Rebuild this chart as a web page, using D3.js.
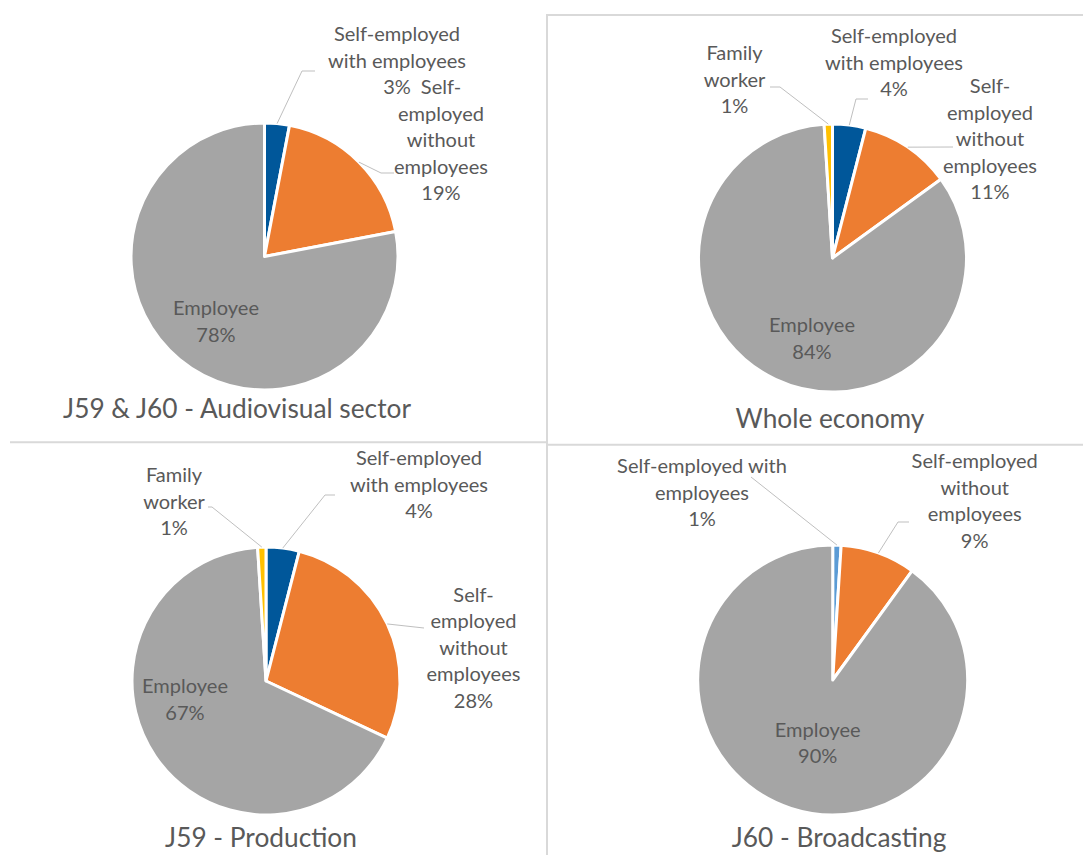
<!DOCTYPE html>
<html>
<head>
<meta charset="utf-8">
<script src="https://cdn.jsdelivr.net/npm/d3@7"></script>
<style>
  html, body { margin: 0; padding: 0; background: #ffffff; }
  svg { display: block; }
</style>
</head>
<body>
<svg id="chart" width="1083" height="855"></svg>
<script>
// ---- data -------------------------------------------------------------
const categories = [
  "Self-employed with employees",
  "Self-employed without employees",
  "Employee",
  "Family worker"
];
const panelTitles = [
  "J59 & J60 - Audiovisual sector",
  "Whole economy",
  "J59 - Production",
  "J60 - Broadcasting"
];
// shares in %, in category order (0 = category not shown)
const audiovisualShares = [3, 19, 78, 0];
const wholeEconomyShares = [4, 11, 84, 1];
const productionShares   = [4, 28, 67, 1];
const broadcastingShares = [1, 9, 90, 0];

// wrapped label text per panel (the percentage line is added from the value)
const wrapA = [["Self-employed", "with employees"], ["Self-", "employed", "without", "employees"], ["Employee"], []];
const wrapB = [["Self-employed", "with employees"], ["Self-", "employed", "without", "employees"], ["Employee"], ["Family", "worker"]];
const wrapC = [["Self-employed with", "employees"], ["Self-employed", "without", "employees"], ["Employee"], []];

// ---- styling ------------------------------------------------------------
const sliceColors = ["#00579a", "#ed7d31", "#a5a5a5", "#ffc000"];
const sliceColorsBroadcasting = ["#5b9bd5", "#ed7d31", "#a5a5a5", "#ffc000"];
const textColor = "#595959";
const leaderColor = "#bfbfbf";
const frameColor = "#d9d9d9";
const fontFamily = "Lato, 'Open Sans', 'Liberation Sans', sans-serif";
const lineStep = 26.5;

// ---- layout (pie centre, radius, label anchors relative to the centre) ----
const panels = [
  { title: panelTitles[0], values: audiovisualShares, wrap: wrapA, colors: sliceColors,
    cx: 264.5, cy: 256.5, r: 133.5, titleAt: [-27.5, 161.5],
    labels: [
      { at: [132.5, -215.5], leader: [[37.5, -185.5], [50.5, -185.5]] },
      { at: [176.5, -162.5], leader: [[116.5, -83.5], [129.5, -83.5]] },
      { at: [-48.5, 58.5] },
      null
    ] },
  { title: panelTitles[1], values: wholeEconomyShares, wrap: wrapB, colors: sliceColors,
    cx: 832.5, cy: 258, r: 134, titleAt: [-2.5, 170],
    labels: [
      { at: [61.5, -215], leader: [[23.5, -159], [35.5, -159]] },
      { at: [157.5, -165], leader: [[120.5, -111]] },
      { at: [-20.5, 74] },
      { at: [-98, -198], leader: [[-52.5, -171], [-62.5, -171]] }
    ] },
  { title: panelTitles[2], values: productionShares, wrap: wrapB, colors: sliceColors,
    cx: 266, cy: 681, r: 134, titleAt: [-5, 166],
    labels: [
      { at: [153, -216], leader: [[59, -186], [69, -186]] },
      { at: [207.5, -79.3], leader: [[158, -53]] },
      { at: [-81, 12] },
      { at: [-92, -199], leader: [[-54, -174], [-58, -174]] }
    ] },
  { title: panelTitles[3], values: broadcastingShares, wrap: wrapC, colors: sliceColorsBroadcasting,
    cx: 832.7, cy: 680, r: 135, titleAt: [6.3, 167],
    labels: [
      { at: [-130.7, -206.7], leader: [[-81.7, -203]] },
      { at: [142, -211.7], leader: [[65.3, -158], [76.3, -158]] },
      { at: [-15, 56.7] },
      null
    ] }
];

const svg = d3.select("#chart");

// font sizes chosen so that the text runs to the intended widths
function fitFontSize(text, targetWidth) {
  const probe = svg.append("text").attr("font-family", fontFamily).attr("font-size", 100).text(text);
  const w = probe.node().getComputedTextLength();
  probe.remove();
  return w > 0 ? 100 * targetWidth / w : 20;
}
const labelSize = fitFontSize("Employee", 86);
const titleSize = fitFontSize("Whole economy", 189);

// ---- frame lines between the charts ----------------------------------------
const frame = svg.append("g").attr("stroke", frameColor).attr("stroke-width", 2).attr("fill", "none");
frame.append("path").attr("d", "M547,855 V15 H1083");
frame.append("path").attr("d", "M10,442.3 H547");
frame.append("path").attr("d", "M547,444.7 H1083");

// ---- pies ----------------------------------------------------------------
const pie = d3.pie().sort(null).value(d => d.value);

panels.forEach(p => {
  const g = svg.append("g").attr("transform", `translate(${p.cx},${p.cy})`);
  const rows = p.values
    .map((v, i) => ({ value: v, index: i, name: categories[i] }))
    .filter(d => d.value > 0);
  const arcs = pie(rows);
  const arc = d3.arc().innerRadius(0).outerRadius(p.r);
  const rim = d3.arc().innerRadius(p.r).outerRadius(p.r);

  g.selectAll("path.slice")
    .data(arcs)
    .join("path")
    .attr("class", "slice")
    .attr("d", arc)
    .attr("fill", d => p.colors[d.data.index])
    .attr("stroke", "#ffffff")
    .attr("stroke-width", 3)
    .attr("stroke-linejoin", "round");

  // leader lines from the rim of the slice to its label
  const line = d3.line();
  arcs.forEach(d => {
    const lab = p.labels[d.data.index];
    if (!lab || !lab.leader) return;
    const pts = [rim.centroid(d)].concat(lab.leader);
    g.append("path")
      .attr("d", line(pts))
      .attr("fill", "none")
      .attr("stroke", leaderColor)
      .attr("stroke-width", 1);
  });

  // data labels: category name (wrapped) and percentage
  arcs.forEach(d => {
    const lab = p.labels[d.data.index];
    if (!lab) return;
    const lines = p.wrap[d.data.index].concat([d.data.value + "%"]);
    const t = g.append("text")
      .attr("font-family", fontFamily)
      .attr("font-size", labelSize)
      .attr("fill", textColor)
      .attr("text-anchor", "middle");
    lines.forEach((s, k) => {
      t.append("tspan")
        .attr("x", lab.at[0])
        .attr("y", lab.at[1] + k * lineStep)
        .text(s);
    });
  });

  // chart title under the pie
  g.append("text")
    .attr("x", p.titleAt[0])
    .attr("y", p.titleAt[1])
    .attr("font-family", fontFamily)
    .attr("font-size", titleSize)
    .attr("fill", textColor)
    .attr("text-anchor", "middle")
    .text(p.title);
});
</script>
</body>
</html>
